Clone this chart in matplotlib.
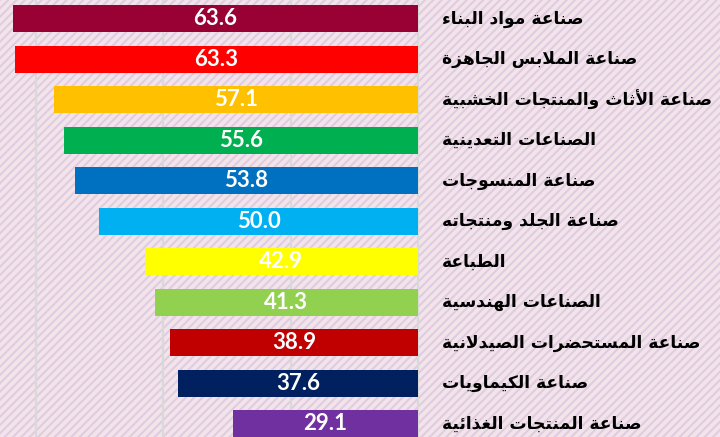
import matplotlib
matplotlib.use("Agg")
import matplotlib.pyplot as plt
from matplotlib.patches import Rectangle

labels = [
    "صناعة مواد البناء",
    "صناعة الملابس الجاهزة",
    "صناعة الأثاث والمنتجات الخشبية",
    "الصناعات التعدينية",
    "صناعة المنسوجات",
    "صناعة الجلد ومنتجاته",
    "الطباعة",
    "الصناعات الهندسية",
    "صناعة المستحضرات الصيدلانية",
    "صناعة الكيماويات",
    "صناعة المنتجات الغذائية",
]
values = [63.6, 63.3, 57.1, 55.6, 53.8, 50.0, 42.9, 41.3, 38.9, 37.6, 29.1]
colors = ["#990033", "#FF0000", "#FFC000", "#00B050", "#0070C0", "#00B0F0",
          "#FFFF00", "#92D050", "#C00000", "#002060", "#7030A0"]

# matplotlib has no arabic shaping, so pick the presentation forms by hand
one = {"\u0621": 0xFE80}
two = {"\u0622": 0xFE81, "\u0623": 0xFE83, "\u0624": 0xFE85, "\u0625": 0xFE87,
       "\u0627": 0xFE8D, "\u0629": 0xFE93, "\u062F": 0xFEA9, "\u0630": 0xFEAB,
       "\u0631": 0xFEAD, "\u0632": 0xFEAF, "\u0648": 0xFEED, "\u0649": 0xFEEF}
four = {"\u0626": 0xFE89, "\u0628": 0xFE8F, "\u062A": 0xFE95, "\u062B": 0xFE99,
        "\u062C": 0xFE9D, "\u062D": 0xFEA1, "\u062E": 0xFEA5, "\u0633": 0xFEB1,
        "\u0634": 0xFEB5, "\u0635": 0xFEB9, "\u0636": 0xFEBD, "\u0637": 0xFEC1,
        "\u0638": 0xFEC5, "\u0639": 0xFEC9, "\u063A": 0xFECD, "\u0641": 0xFED1,
        "\u0642": 0xFED5, "\u0643": 0xFED9, "\u0644": 0xFEDD, "\u0645": 0xFEE1,
        "\u0646": 0xFEE5, "\u0647": 0xFEE9, "\u064A": 0xFEF1}
lamalef = {"\u0622": 0xFEF5, "\u0623": 0xFEF7, "\u0625": 0xFEF9, "\u0627": 0xFEFB}


def shape(s):
    chars = []
    i = 0
    while i < len(s):
        if s[i] == "\u0644" and i + 1 < len(s) and s[i + 1] in lamalef:
            chars.append(("LA", s[i + 1]))
            i += 2
        else:
            chars.append(("C", s[i]))
            i += 1

    def dual(t):
        return t[0] == "C" and t[1] in four

    def letter(t):
        return t[0] == "LA" or t[1] in one or t[1] in two or t[1] in four

    out = []
    for j, t in enumerate(chars):
        k, c = t
        jp = j > 0 and dual(chars[j - 1])
        jn = j + 1 < len(chars) and letter(chars[j + 1]) and dual(t)
        if k == "LA":
            out.append(chr(lamalef[c] + (1 if jp else 0)))
        elif c in four:
            out.append(chr(four[c] + (3 if jp and jn else 1 if jp else 2 if jn else 0)))
        elif c in two:
            out.append(chr(two[c] + (1 if jp else 0)))
        elif c in one:
            out.append(chr(one[c]))
        else:
            out.append(c)
    return "".join(reversed(out))


plt.rcParams["hatch.linewidth"] = 1.5
fig = plt.figure(figsize=(7.2, 4.37), dpi=100)
fig.patch.set_facecolor("#f2e4e9")
fig.patches.append(Rectangle((0, 0), 1, 1, transform=fig.transFigure, facecolor="none",
                             edgecolor="#e0cce2", hatch="////", linewidth=0, zorder=-10))

ax = fig.add_axes([0, 0, 1, 1])
ax.set_facecolor("none")
y = list(range(len(values)))
ax.barh(y, values, height=0.667, color=colors, zorder=2)

for i, v in enumerate(values):
    ax.text(v / 2, i, f"{v:.1f}", ha="center", va="center", color="white",
            fontsize=16, fontweight="bold", family="Lato", zorder=3)
    ax.annotate(shape(labels[i]), xy=(0, i), xytext=(24, 0), textcoords="offset pixels",
                ha="left", va="center", fontsize=12.3, fontweight="bold",
                family=["DejaVu Sans"], color="black")

ax.set_xlim(65.6, -47.4)
ax.set_ylim(10.33, -0.457)
ax.set_xticks([0, 20, 40, 60])
ax.grid(axis="x", color="#d9d9d9", linewidth=1.5)
ax.grid(axis="y", visible=False)
ax.set_axisbelow(True)
ax.tick_params(length=0, labelbottom=False, labelleft=False)
for s in ax.spines.values():
    s.set_visible(False)

fig.savefig("out.png", dpi=100, facecolor=fig.get_facecolor())
